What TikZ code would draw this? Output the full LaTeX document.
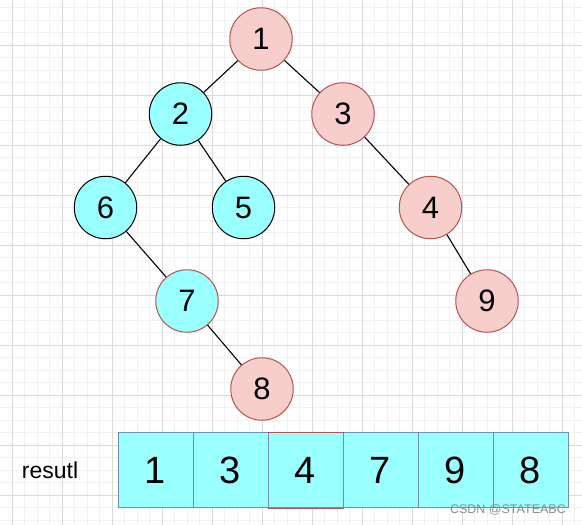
\documentclass[tikz,border=0pt]{standalone}
\usepackage{fontspec}
\setmainfont{Liberation Sans}
\definecolor{cyanfill}{HTML}{99FFFF}
\definecolor{pinkfill}{HTML}{F8CECC}
\definecolor{redline}{HTML}{B85450}
\definecolor{blueline}{HTML}{6C8EBF}
\definecolor{gridminor}{HTML}{F2F2F2}
\definecolor{gridmajor}{HTML}{DADADA}
\begin{document}
\begin{tikzpicture}[x=1pt,y=-1pt,
  treenode/.style={circle,minimum size=62.5pt,inner sep=0pt,line width=1pt,font=\fontsize{31}{31}\selectfont},
  cyannode/.style={treenode,draw=black,fill=cyanfill},
  cyanred/.style={treenode,draw=redline,fill=cyanfill},
  pinknode/.style={treenode,draw=redline,fill=pinkfill},
  cell/.style={rectangle,minimum width=75pt,minimum height=75pt,inner sep=0pt,draw=blueline,fill=cyanfill,line width=1pt,font=\fontsize{38}{38}\selectfont},
  edge/.style={line width=1.1pt,black}]
\useasboundingbox (0,0) rectangle (582,525);
\fill[white] (0,0) rectangle (582,525);
% grid
\foreach \i in {0,...,47} {
  \draw[gridminor,line width=0.8pt] ({-0.5+12.5*\i},0) -- ({-0.5+12.5*\i},525);
}
\foreach \i in {0,...,42} {
  \draw[gridminor,line width=0.8pt] (0,{7.5+12.5*\i}) -- (582,{7.5+12.5*\i});
}
\foreach \i in {0,...,11} {
  \draw[gridmajor,line width=0.8pt] ({12+50*\i},0) -- ({12+50*\i},525);
}
\foreach \i in {0,...,10} {
  \draw[gridmajor,line width=0.8pt] (0,{45+50*\i}) -- (582,{45+50*\i});
}
% tree nodes
\node[pinknode] (n1) at (261,39) {1};
\node[cyannode] (n2) at (180.5,114) {2};
\node[pinknode] (n3) at (343,114) {3};
\node[cyannode] (n6) at (105.5,207.5) {6};
\node[cyannode] (n5) at (243.5,207.5) {5};
\node[pinknode] (n4) at (430.5,207.5) {4};
\node[cyanred] (n7) at (187,301) {7};
\node[pinknode] (n9) at (487,301) {9};
\node[pinknode] (n8) at (262,389) {8};
% edges
\draw[edge] (n1) -- (n2);
\draw[edge] (n1) -- (n3);
\draw[edge] (n2) -- (n6);
\draw[edge] (n2) -- (n5);
\draw[edge] (n3) -- (n4);
\draw[edge] (n4) -- (n9);
\draw[edge] (n6) -- (n7);
\draw[edge] (n7) -- (n8);
% result array
\node[font=\fontsize{23}{23}\selectfont] (lbl) at (50,470) {resutl};
\node[cell] (c1) at (155.5,470) {1};
\node[cell] (c2) at (230.5,470) {3};
\node[cell] (c3) at (305.5,470) {4};
\node[cell] (c4) at (380.5,470) {7};
\node[cell] (c5) at (455.5,470) {9};
\node[cell] (c6) at (530.5,470) {8};
\draw[redline,line width=1pt] (c3.north west) -- (c3.north east);
\draw[redline,line width=1pt] (c3.south west) -- (c3.south east);
\node[anchor=east,text=gray!90,font=\fontsize{12.5}{12.5}\selectfont,inner sep=0pt] (wm) at (566,510) {CSDN @STATEABC};
\end{tikzpicture}
\end{document}
